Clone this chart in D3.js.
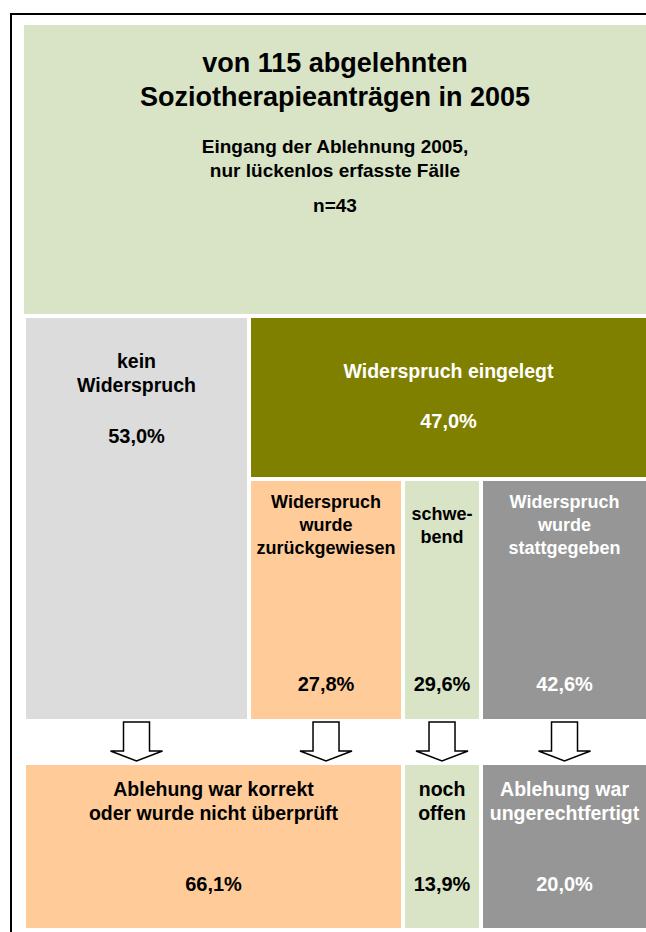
<!DOCTYPE html>
<html>
<head>
<meta charset="utf-8">
<script src="https://cdn.jsdelivr.net/npm/d3@7"></script>
<style>
  html, body { margin: 0; padding: 0; background: #fff; }
  svg { display: block; }
  text { font-family: "Liberation Sans", Arial, sans-serif; font-weight: bold; }
</style>
</head>
<body>
<div id="chart"></div>
<script>
// Daten
const titleLines    = ["von 115 abgelehnten", "Soziotherapieanträgen in 2005"];
const subtitleLines = ["Eingang der Ablehnung 2005,", "nur lückenlos erfasste Fälle"];
const sampleLabel   = "n=43";

// Ebene 1: Widerspruch ja / nein
const level1Labels = [["kein", "Widerspruch"], ["Widerspruch eingelegt"]];
const level1Values = [53.0, 47.0];

// Ebene 2: Ergebnis des Widerspruchs
const level2Labels = [["Widerspruch", "wurde", "zurückgewiesen"], ["schwe-", "bend"], ["Widerspruch", "wurde", "stattgegeben"]];
const level2Values = [27.8, 29.6, 42.6];

// Ergebnis insgesamt
const outcomeLabels = [["Ablehung war korrekt", "oder wurde nicht überprüft"], ["noch", "offen"], ["Ablehung war", "ungerechtfertigt"]];
const outcomeValues = [66.1, 13.9, 20.0];

const fmt = v => d3.format(".1f")(v).replace(".", ",") + "%";

const width = 646, height = 932, gap = 4;

const svg = d3.select("#chart").append("svg")
  .attr("width", width)
  .attr("height", height);

// Spalten (Layout, in Prozent der Breite)
const x = d3.scaleLinear().domain([0, 100]).range([24, 648]);
const colBreaks = [0, 36.06, 60.74, 73.24, 100];
const col = i => ({ x0: x(colBreaks[i]) + gap / 2, x1: x(colBreaks[i + 1]) - gap / 2 });

// Zeilen (Layout)
const rows = {
  head:  [25, 314],
  lvl1:  [318, 477],
  lvl2:  [481, 719],
  arrow: [722, 761],
  out:   [765, 928]
};

// äußerer Rahmen
svg.append("rect")
  .attr("x", 11).attr("y", 14)
  .attr("width", 700).attr("height", 1000)
  .attr("fill", "none").attr("stroke", "#000").attr("stroke-width", 2);

function box(x0, x1, y0, y1, fill) {
  svg.append("rect")
    .attr("x", x0).attr("y", y0)
    .attr("width", x1 - x0).attr("height", y1 - y0)
    .attr("fill", fill);
}

function lines(cx, y0, step, arr, size, color) {
  arr.forEach((t, i) => {
    svg.append("text")
      .attr("x", cx).attr("y", y0 + i * step)
      .attr("text-anchor", "middle")
      .attr("font-size", size)
      .attr("fill", color)
      .text(t);
  });
}

// 1) Kopfbereich
box(x(0), x(100) - gap / 2, rows.head[0], rows.head[1], "#d8e4c5");
const headCx = (x(0) + width) / 2;
lines(headCx, 72, 34, titleLines, 27, "#000");
lines(headCx, 153, 24, subtitleLines, 19, "#000");
lines(headCx, 212, 0, [sampleLabel], 19, "#000");

// 2) Ebene 1
const cA = col(0);
box(cA.x0, cA.x1, rows.lvl1[0], rows.lvl2[1], "#dcdcdc");
const cA_x = (cA.x0 + cA.x1) / 2;
lines(cA_x, 368, 24, level1Labels[0], 19.5, "#000");
lines(cA_x, 443, 0, [fmt(level1Values[0])], 20, "#000");

const olive = { x0: col(1).x0, x1: col(3).x1 };
box(olive.x0, olive.x1, rows.lvl1[0], rows.lvl1[1], "#808000");
const olive_x = (olive.x0 + olive.x1) / 2;
lines(olive_x, 378, 0, level1Labels[1], 19.5, "#fff");
lines(olive_x, 428, 0, [fmt(level1Values[1])], 20, "#fff");

// 3) Ebene 2
const lvl2Fill = ["#ffcc99", "#d8e4c5", "#969696"];
const lvl2Text = ["#000", "#000", "#fff"];
level2Values.forEach((v, i) => {
  const c = col(i + 1);
  const cx = (c.x0 + c.x1) / 2;
  box(c.x0, c.x1, rows.lvl2[0], rows.lvl2[1], lvl2Fill[i]);
  const startY = level2Labels[i].length === 2 ? 520 : 508;
  lines(cx, startY, 23, level2Labels[i], 18, lvl2Text[i]);
  lines(cx, 691, 0, [fmt(v)], 20, lvl2Text[i]);
});

// 4) Pfeile
const arrowCols = [0, 1, 2, 3];
const arrow = d3.line();
arrowCols.forEach(i => {
  const c = col(i);
  const cx = (c.x0 + c.x1) / 2;
  const [t, b] = rows.arrow;
  const hy = b - 10;
  svg.append("path")
    .attr("d", arrow([
      [cx - 13, t], [cx + 13, t], [cx + 13, hy], [cx + 26, hy],
      [cx, b], [cx - 26, hy], [cx - 13, hy]
    ]) + "Z")
    .attr("fill", "#fff")
    .attr("stroke", "#000")
    .attr("stroke-width", 1.5);
});

// 5) Ergebnis
const outCols = [{ x0: col(0).x0, x1: col(1).x1 }, col(2), col(3)];
const outFill = ["#ffcc99", "#d8e4c5", "#969696"];
const outText = ["#000", "#000", "#fff"];
outcomeValues.forEach((v, i) => {
  const c = outCols[i];
  const cx = (c.x0 + c.x1) / 2;
  box(c.x0, c.x1, rows.out[0], rows.out[1], outFill[i]);
  lines(cx, 796, 24, outcomeLabels[i], 19.5, outText[i]);
  lines(cx, 891, 0, [fmt(v)], 20, outText[i]);
});
</script>
</body>
</html>
